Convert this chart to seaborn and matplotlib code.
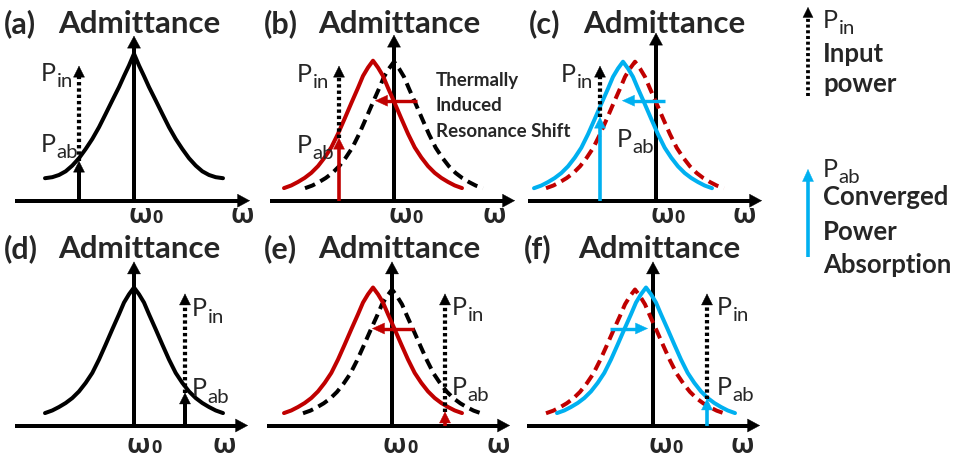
import numpy as np
import pandas as pd
import seaborn as sns
import matplotlib.pyplot as plt
from matplotlib.patches import ArrowStyle

sns.set_theme(style="white")
plt.rcParams["font.family"] = ["Lato", "DejaVu Sans"]

BLACK, RED, BLUE = "#000000", "#C00000", "#00B0F0"

# Resonance line shape: detuning from the peak, admittance relative to the peak
shape_offset = [0, 0.5, 1.0, 1.5, 2.17, 2.83, 3.5, 4.17, 4.83, 5.5, 6.17, 6.83, 7.5, 8.17, 8.9]
shape_a = [1.0, 0.92, 0.848, 0.773, 0.682, 0.591, 0.50, 0.42, 0.352, 0.289, 0.239, 0.20, 0.175, 0.16, 0.153]
shape_std = [1.0, 0.951, 0.891, 0.806, 0.697, 0.587, 0.478, 0.381, 0.309, 0.247, 0.199, 0.163, 0.134, 0.109, 0.090]

panel_tags = ["(a)", "(b)", "(c)", "(d)", "(e)", "(f)"]

# Admittance curves of each panel
curve_panel = [0, 1, 1, 2, 2, 3, 4, 4, 5, 5]
curve_center = [0.0, 0.0, -2.1, -2.1, -3.3, 0.0, 0.0, -1.9, -1.8, -0.7]
curve_peak = [1.47, 1.39, 1.40, 1.39, 1.39, 1.38, 1.36, 1.38, 1.36, 1.38]
curve_shape = ["a", "std", "std", "std", "std", "std", "std", "std", "std", "std"]
curve_color = [BLACK, BLACK, RED, RED, BLUE, BLACK, BLACK, RED, RED, BLUE]
curve_dashed = [False, True, False, True, False, False, True, False, True, False]

# Input power frequency, absorbed and input power levels
pin_freq = [-5.5, -5.5, -5.6, 5.1, 5.3, 5.4]
pab_level = [0.40, 0.63, 0.84, 0.33, 0.14, 0.27]
pin_level = [1.35, 1.35, 1.35, 1.32, 1.32, 1.32]
pab_color = [BLACK, RED, BLUE, BLACK, RED, BLUE]

# Resonance shift arrows
shift_panel = [1, 2, 4, 5]
shift_from = [2.3, 0.9, 2.2, -4.3]
shift_to = [-1.9, -3.4, -2.0, -0.5]
shift_level = [1.00, 1.00, 0.97, 0.97]
shift_color = [RED, BLUE, RED, BLUE]

W, H = 959, 460
PX_X, PX_Y = 10.0, 100.0  # pixels per data unit in the panels


def pt(px):
    return px * 0.72


def arrow(ax, x0, y0, x1, y1, color, lw_px, ls="-", hl=12, hw=12, sx=PX_X, sy=PX_Y):
    """Shaft drawn as a line, head as a filled triangle ending at (x1, y1)."""
    dx_px, dy_px = (x1 - x0) * sx, (y1 - y0) * sy
    n = np.hypot(dx_px, dy_px)
    ux, uy = dx_px / n, dy_px / n
    bx, by = x1 - ux * hl / sx, y1 - uy * hl / sy
    ex, ey = x1 - ux * (hl - 2) / sx, y1 - uy * (hl - 2) / sy
    ax.plot([x0, ex], [y0, ey], color=color, lw=pt(lw_px), ls=ls,
            solid_capstyle="butt", dash_capstyle="butt")
    ax.annotate("", xy=(x1, y1), xytext=(bx, by),
                arrowprops=dict(arrowstyle=ArrowStyle("-|>", head_length=pt(hl), head_width=pt(hw / 2)),
                                mutation_scale=1, lw=0.3, color=color, shrinkA=0, shrinkB=0))


def power_label(ax, x, y, sub, size=18):
    """Letter P with a large, lowered subscript."""
    p = ax.text(x, y, "P", fontsize=size, ha="left", va="baseline")
    ax.annotate(sub, xy=(1, 0), xycoords=p, xytext=(0.6, -1.5), textcoords="offset points",
                fontsize=size * 0.82, ha="left", va="baseline")


fig = plt.figure(figsize=(W / 100, H / 100), dpi=100)
fig.patch.set_facecolor("white")

origins = [(134, 201.7), (394, 201.7), (656, 201.7), (134, 426.5), (392, 426.5), (653, 426.5)]
axis_left = [-11.9, -12.4, -12.8, -11.9, -12.5, -12.6]
axis_right = [11.6, 12.1, 10.6, 11.4, 11.8, 10.7]
axis_top = [1.65, 1.66, 1.68, 1.64, 1.64, 1.64]
title_x = [-7.6, -7.6, -7.3, -7.6, -7.4, -7.5]
omega_x = [9.6, 8.8, 7.6, 7.8, 9.5, 7.7]
omega0_x = [-0.6, -0.6, -0.6, -0.7, -0.9, -0.5]
pin_label = [(-9.3, 1.21), (-9.7, 1.20), (-9.5, 1.20), (5.8, 1.10), (6.0, 1.115), (6.4, 1.115)]
pab_label = [(-9.3, 0.50), (-9.7, 0.487), (-3.9, 0.55), (5.8, 0.30), (6.0, 0.315), (6.4, 0.315)]

axes = []
for ox, oy in origins:
    ax = fig.add_axes([(ox - 135) / W, (H - (oy + 30)) / H, 260 / W, 230 / H])
    ax.set_xlim(-13.5, 12.5)
    ax.set_ylim(-0.30, 2.0)
    ax.axis("off")
    axes.append(ax)

LW = 4.0
for i, ax in enumerate(axes):
    # frequency and admittance axes
    arrow(ax, axis_left[i], 0, axis_right[i], 0, BLACK, LW, hl=12, hw=13)
    arrow(ax, 0, 0, 0, axis_top[i], BLACK, LW, hl=12, hw=13)
    row_base = -0.21 if i < 3 else -0.27
    ax.text(title_x[i] - 5.4, 1.685, panel_tags[i], fontsize=22, fontweight="bold", ha="left", va="baseline")
    ax.text(title_x[i], 1.685, "Admittance", fontsize=22.5, fontweight="bold", ha="left", va="baseline")
    ax.text(omega_x[i], row_base, "ω", fontsize=19.5, fontweight="bold", family=["Open Sans"],
            ha="left", va="baseline")
    w0 = ax.text(omega0_x[i], row_base, "ω", fontsize=19.5, fontweight="bold", family=["Open Sans"],
                 ha="left", va="baseline")
    ax.annotate("0", xy=(1, 0), xycoords=w0, xytext=(0.5, 1.5), textcoords="offset points",
                fontsize=13, family=["Open Sans"], fontweight="bold", ha="left", va="bottom")

for i in range(len(curve_panel)):
    ax = axes[curve_panel[i]]
    prof = shape_a if curve_shape[i] == "a" else shape_std
    xs = [curve_center[i] - o for o in shape_offset[::-1]] + [curve_center[i] + o for o in shape_offset[1:]]
    ys = [curve_peak[i] * v for v in prof[::-1]] + [curve_peak[i] * v for v in prof[1:]]
    df = pd.DataFrame({"detuning": xs, "admittance": ys})
    sns.lineplot(data=df, x="detuning", y="admittance", ax=ax, sort=False, estimator=None,
                 color=curve_color[i], lw=pt(LW),
                 linestyle=(0, (2.7, 1.5)) if curve_dashed[i] else "-",
                 dash_capstyle="butt", legend=False)
    ax.set_xlim(-13.5, 12.5)
    ax.set_ylim(-0.30, 2.0)
    ax.axis("off")

for i, ax in enumerate(axes):
    x = pin_freq[i]
    arrow(ax, x, pab_level[i], x, pin_level[i], BLACK, 4.2, ls=(0, (0.8, 0.7)), hl=11, hw=11)
    arrow(ax, x, 0, x, pab_level[i], pab_color[i], 4.0 if pab_color[i] == BLACK else 3.6, hl=11, hw=11)
    power_label(ax, pin_label[i][0], pin_label[i][1], "in")
    power_label(ax, pab_label[i][0], pab_label[i][1], "ab")

for k in range(len(shift_panel)):
    ax = axes[shift_panel[k]]
    arrow(ax, shift_from[k], shift_level[k], shift_to[k], shift_level[k], shift_color[k], 3.4, hl=12, hw=11)

ax_b = axes[1]
for txt, yb in zip(["Thermally", "Induced", "Resonance Shift"], [1.157, 0.907, 0.65]):
    ax_b.text(4.17, yb, txt, fontsize=13.5, fontweight="bold", ha="left", va="baseline")

# key on the right
lax = fig.add_axes([760 / W, 0, 199 / W, 1])
lax.set_xlim(0, 199)
lax.set_ylim(460, 0)
lax.axis("off")
arrow(lax, 48, 97, 48, 8, BLACK, 3.8, ls=(0, (0.8, 0.7)), hl=10, hw=10, sx=1, sy=1)
arrow(lax, 48, 258, 48, 170, BLUE, 3.6, hl=12, hw=11, sx=1, sy=1)
power_label(lax, 63, 28.3, "in")
lax.text(63, 61.7, "Input", fontsize=18.5, fontweight="bold", ha="left", va="baseline")
lax.text(63, 92, "power", fontsize=18.5, fontweight="bold", ha="left", va="baseline")
power_label(lax, 63, 177, "ab")
lax.text(63, 205, "Converged", fontsize=18.5, fontweight="bold", ha="left", va="baseline")
lax.text(63, 240, "Power", fontsize=18.5, fontweight="bold", ha="left", va="baseline")
lax.text(63, 273, "Absorption", fontsize=18.5, fontweight="bold", ha="left", va="baseline")

fig.savefig("out.png", dpi=100)
